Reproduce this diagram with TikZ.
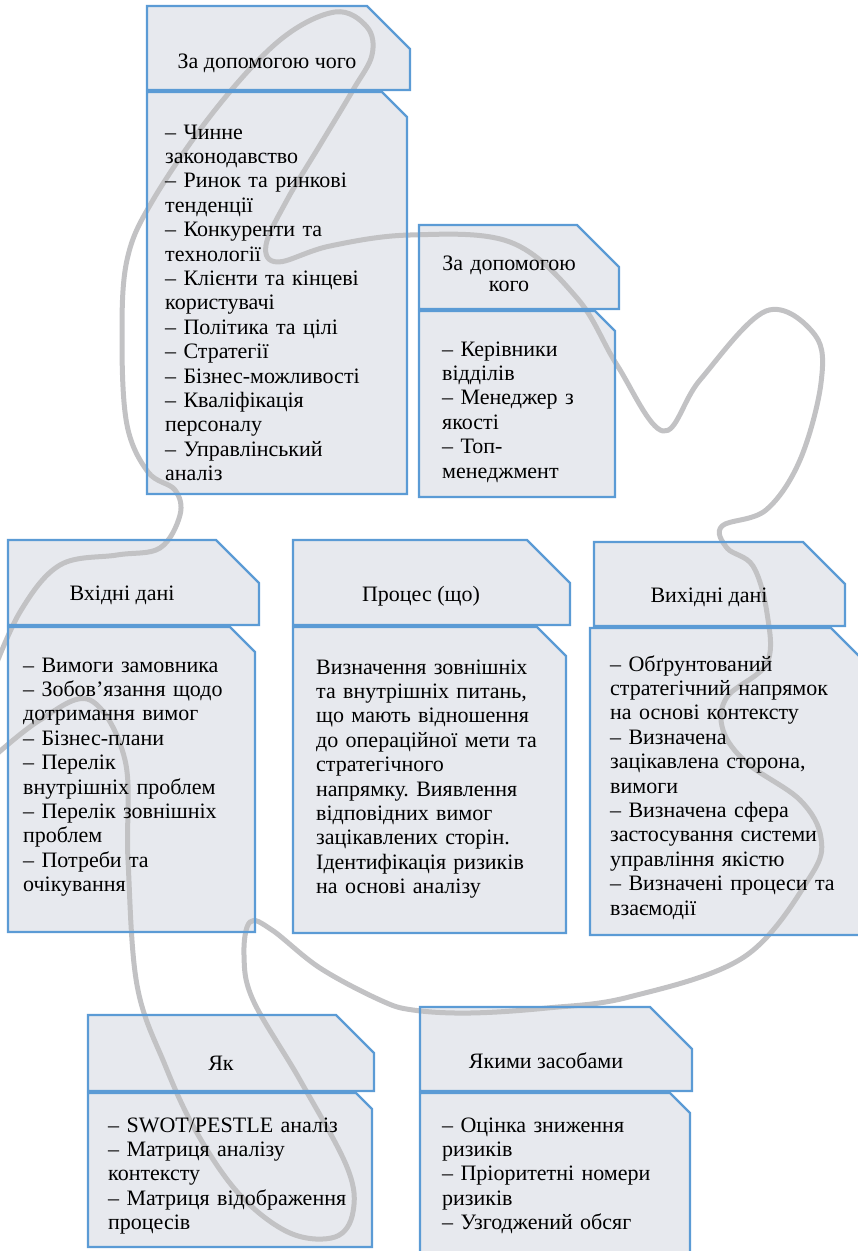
\documentclass[tikz,border=0pt]{standalone}
\usepackage{fontspec}
\setmainfont{Liberation Serif}
\frenchspacing

\definecolor{cardbg}{HTML}{E7E9EE}
\definecolor{cardblue}{HTML}{5B9BD5}
\definecolor{scribblegray}{HTML}{C2C2C4}
\newcommand{\cardfont}{\fontsize{22}{24.4}\selectfont}

% header and body parts: left/top/right/bottom/snip
\newcommand{\cardlist}{147/6/410/90/43, 147/92/407/494/25,
  419/225/619/309/42, 419/311/615/497/20,
  8/540/259/625/43, 8/627/255/932/25,
  293/540/570/625/43, 293/627/566/933/29,
  594/542/845/626/42, 590/628/866/935/35,
  88/1015/374/1091/38, 88/1093/372/1247/16,
  420/1007/692/1091/42, 420/1093/690/1262/20}

\begin{document}
\begin{tikzpicture}[x=1pt,y=-1pt,
    cardedge/.style={draw=cardblue,line width=2.3pt},
    scribble/.style={draw=scribblegray,line width=5pt,line cap=round,line join=round},
    title/.style={anchor=base,align=center,font=\cardfont,inner sep=0pt},
    items/.style={anchor=base west,text width=300pt,align=left,font=\cardfont,inner sep=0pt}]
\useasboundingbox (0,0) rectangle (858,1251);
\clip (0,0) rectangle (858,1251);

% card fills
\foreach \l/\t/\r/\b/\s in \cardlist
    \fill[cardbg] (\l,\t) -- ({\r-\s},\t) -- (\r,{\t+\s}) -- (\r,\b) -- (\l,\b) -- cycle;

% the grey scribble behind the text
\draw[scribble] plot[smooth,tension=0.6] coordinates {
    (-10,680) (20,612) (60,565) (117,555) (160,548) (180,515) (175,490)
    (148,472) (127,425) (122,340) (127,260) (153,200) (215,110) (280,40)
    (335,12) (367,27) (372,55) (353,90) (320,145) (287,200) (266,245)
    (278,262) (330,246) (410,235) (510,242) (577,298) (617,365) (663,431)
    (700,380) (766,311) (815,335) (821,383) (800,460) (766,510) (722,526)
    (727,548) (753,566) (767,613) (767,663) (727,697) (723,730) (747,763)
    (800,800) (821,838) (810,877) (744,957) (629,997) (547,1008) (470,1013)
    (413,1010) (380,1000) (320,968) (272,930) (250,922) (244,955) (253,1000)
    (300,1080) (347,1167) (353,1212) (335,1237) (290,1233) (240,1195)
    (197,1133) (165,1065) (137,985) (128,860) (125,760) (90,700) (40,720)
    (-10,760)};

% card outlines
\foreach \l/\t/\r/\b/\s in \cardlist
    \draw[cardedge] (\l,\t) -- ({\r-\s},\t) -- (\r,{\t+\s}) -- (\r,\b) -- (\l,\b) -- cycle;

% titles
\node[title] (whatT) at (267,68) {За допомогою чого};
\node[title,text width=200pt] (whoT) at (509,270) {За допомогою\\[-3pt]кого};
\node[title] (inT) at (122,600) {Вхідні дані};
\node[title] (procT) at (421,601) {Процес (що)};
\node[title] (outT) at (709,602) {Вихідні дані};
\node[title] (howT) at (221,1070) {Як};
\node[title] (meansT) at (546,1068) {Якими засобами};

% lists
\node[items] (whatL) at (165,139) {– Чинне\\законодавство\\– Ринок та ринкові\\тенденції\\%
– Конкуренти та\\технології\\– Клієнти та кінцеві\\користувачі\\– Політика та цілі\\%
– Стратегії\\– Бізнес-можливості\\– Кваліфікація\\персоналу\\– Управлінський\\аналіз};
\node[items] (whoL) at (442,356) {– Керівники\\відділів\\– Менеджер з\\якості\\– Топ-\\менеджмент};
\node[items] (inL) at (23,672) {– Вимоги замовника\\– Зобов’язання щодо\\дотримання вимог\\%
– Бізнес-плани\\– Перелік\\внутрішніх проблем\\– Перелік зовнішніх\\проблем\\%
– Потреби та\\очікування};
\node[items] (procL) at (316,674) {Визначення зовнішніх\\та внутрішніх питань,\\%
що мають відношення\\до операційної мети та\\стратегічного\\напрямку. Виявлення\\%
відповідних вимог\\зацікавлених сторін.\\Ідентифікація ризиків\\на основі аналізу};
\node[items] (outL) at (610,671) {– Обґрунтований\\стратегічний напрямок\\%
на основі контексту\\– Визначена\\зацікавлена сторона,\\вимоги\\– Визначена сфера\\%
застосування системи\\управління якістю\\– Визначені процеси та\\взаємодії};
\node[items] (howL) at (108,1132) {– SWOT/PESTLE аналіз\\– Матриця аналізу\\контексту\\%
– Матриця відображення\\процесів};
\node[items] (meansL) at (442,1132) {– Оцінка зниження\\ризиків\\– Пріоритетні номери\\%
ризиків\\– Узгоджений обсяг};
\end{tikzpicture}
\end{document}
